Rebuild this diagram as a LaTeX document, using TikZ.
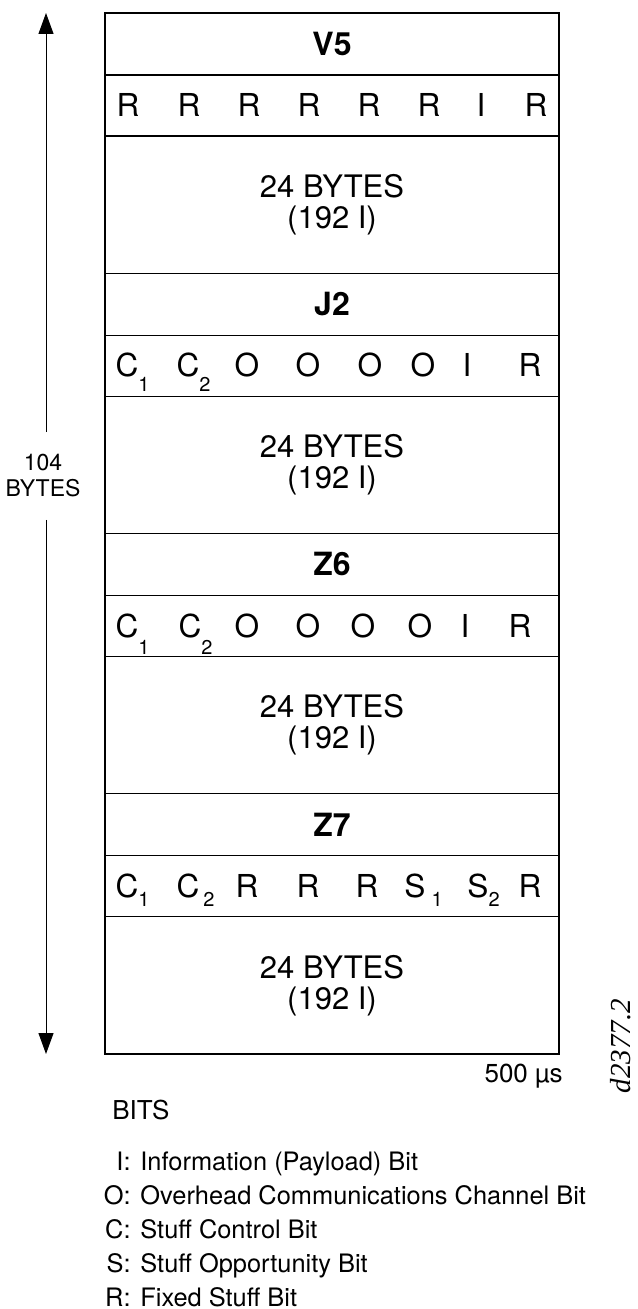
\documentclass[tikz,border=0pt]{standalone}
\usepackage{fontspec}
\setmainfont{TeX Gyre Heros}
\newfontfamily\figidfont{Liberation Serif}
\usetikzlibrary{arrows.meta, positioning}

% lowered subscript hung to the right of a bit letter
\newcommand\lsub[3][0pt]{\rlap{\kern#1\smash{\raisebox{-#2}{\fontsize{10}{10}\selectfont #3}}}}

\tikzset{
    framepic/.style={x=0.5pt, y=-0.5pt, >={Triangle[length=10.5pt, width=7.5pt]}},
    rowbox/.style={draw, line width=0.6pt, minimum width=227pt, inner sep=0pt, outer sep=0pt},
    hdrrow/.style={rowbox, minimum height=31pt, font=\bfseries\fontsize{16}{17}\selectfont},
    bitrow/.style={rowbox, minimum height=30.5pt},
    byterow/.style={rowbox, minimum height=68.6pt, align=center, font=\fontsize{15.5}{15.5}\selectfont},
    bitlbl/.style={inner sep=0pt, text height=11.3pt, text depth=0pt, font=\fontsize{15.8}{16}\selectfont},
    outline/.style={draw, line width=1.2pt},
    dimline/.style={line width=0.5pt},
    spanlbl/.style={align=center, inner xsep=0pt, inner ysep=11pt, font=\fontsize{11.5}{13}\selectfont},
    note/.style={inner sep=0pt, font=\fontsize{13}{13}\selectfont},
    legitem/.style={inner sep=0pt, font=\fontsize{12.7}{13}\selectfont},
}

\begin{document}
\begin{tikzpicture}[framepic]
    \useasboundingbox (0,0) rectangle (637,1309);

    % stacked rows of the frame
    \node[hdrrow] (v5) at (332,44) {V5};
    \node[bitrow, below=0pt of v5] (v5bits) {};
    \node[byterow, below=0pt of v5bits] (pay1) {24 BYTES\\(192 I)};
    \node[hdrrow, below=0pt of pay1] (j2) {J2};
    \node[bitrow, below=0pt of j2] (j2bits) {};
    \node[byterow, below=0pt of j2bits] (pay2) {24 BYTES\\(192 I)};
    \node[hdrrow, below=0pt of pay2] (z6) {Z6};
    \node[bitrow, below=0pt of z6] (z6bits) {};
    \node[byterow, below=0pt of z6bits] (pay3) {24 BYTES\\(192 I)};
    \node[hdrrow, below=0pt of pay3] (z7) {Z7};
    \node[bitrow, below=0pt of z7] (z7bits) {};
    \node[byterow, below=0pt of z7bits] (pay4) {24 BYTES\\(192 I)};
    \draw[outline] (v5.north west) rectangle (pay4.south east);

    % bit labels
    \foreach \x/\t [count=\i] in {128/R, 189/R, 249/R, 309/R, 369/R, 429/R, 481/I, 536/R}
        \node[bitlbl] (v5b\i) at (\x,0 |- v5bits.center) {\t};
    \foreach \x/\t [count=\i] in {127/{C\lsub{7.5pt}{1}}, 188/{C\lsub{7.5pt}{2}}, 247/O, 308/O, 370/O, 423/O, 467/I, 530/R}
        \node[bitlbl] (j2b\i) at (\x,0 |- j2bits.center) {\t};
    \foreach \x/\t [count=\i] in {127/{C\lsub{8.5pt}{1}}, 190/{C\lsub{8.5pt}{2}}, 247/O, 308/O, 363/O, 420/O, 465/I, 520/R}
        \node[bitlbl] (z6b\i) at (\x,0 |- z6bits.center) {\t};
    \foreach \x/\t [count=\i] in {127/{C\lsub{4.5pt}{1}}, 188/{C\lsub[2pt]{4.5pt}{2}}, 247/R, 308/R, 367/R, 415/{S\lsub[3pt]{4.5pt}{1}}, 478/{S\lsub{4.5pt}{2}}, 530/R}
        \node[bitlbl] (z7b\i) at (\x,0 |- z7bits.center) {\t};

    % length of the multiframe
    \node[spanlbl] (len) at (43,476) {104\\BYTES};
    \coordinate (lentop) at (46,13);
    \coordinate (lenbot) at (46,1054);
    \draw[dimline, ->] (lentop |- len.north) -- (lentop);
    \draw[dimline, ->] (lenbot |- len.south) -- (lenbot);

    \node[note, anchor=base west] (bitsword) at (112,1119) {BITS};
    \node[note, anchor=base east] (period) at (563,1082) {500 µs};
    \node[rotate=90, inner sep=0pt, font=\figidfont\itshape\fontsize{14.5}{14.5}\selectfont] (figid) at (621,1046) {d2377.2};

    % legend
    \foreach \k/\c/\d in {0/I/Information (Payload) Bit, 1/O/Overhead Communications Channel Bit, 2/C/Stuff Control Bit, 3/S/Stuff Opportunity Bit, 4/R/Fixed Stuff Bit}
    {
        \node[legitem, anchor=base east] (key\k) at (131,{1170+34*\k}) {\c:};
        \node[legitem, anchor=base west] (desc\k) at ([xshift=4.5pt]key\k.base east) {\d};
    }
\end{tikzpicture}
\end{document}
